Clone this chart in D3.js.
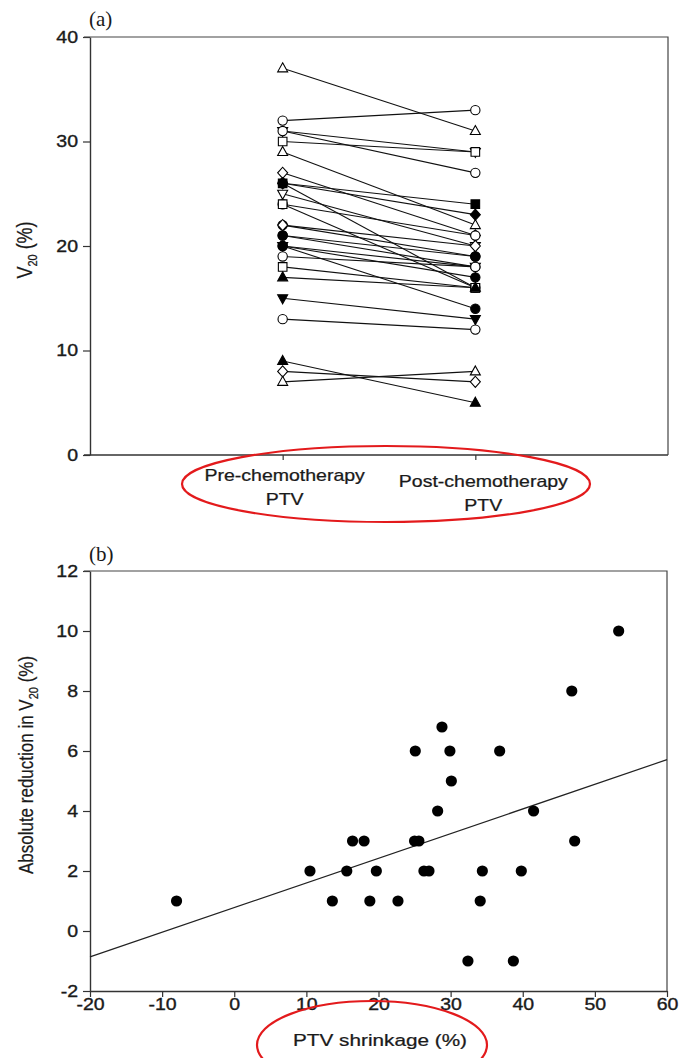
<!DOCTYPE html>
<html>
<head>
<meta charset="utf-8">
<script src="https://cdn.jsdelivr.net/npm/d3@7"></script>
<style>
  html, body { margin: 0; padding: 0; background: #fff; }
  svg { display: block; }
</style>
</head>
<body>
<div id="chart"></div>
<script>
// ---- panel (a): V20 before / after chemotherapy, one line per patient ----
const stages = ["Pre-chemotherapy", "Post-chemotherapy"];
const preV20 = [37, 32, 31, 31, 30, 29, 27, 26, 26, 25, 24, 24, 22, 20, 15, 13, 9, 8, 7, 26, 22, 21, 21, 20, 20, 19, 18, 17];
const postV20 = [31, 33, 29, 27, 29, 22, 21, 24, 16, 20, 21, 16, 19, 14, 13, 12, 5, 7, 8, 23, 20, 19, 18, 17, 18, 18, 16, 16];
const markerShape = ["up", "circle", "down", "circle", "square", "up", "diamond", "square", "circle", "down",
  "circle", "square", "circle", "circle", "down", "circle", "up", "diamond", "up", "diamond",
  "diamond", "circle", "circle", "circle", "down", "circle", "square", "up"];
const markerFilled = [0, 0, 0, 0, 0, 0, 0, 1, 1, 0, 0, 0, 1, 1, 1, 0, 1, 0, 0, 1, 0, 1, 1, 1, 1, 0, 0, 1];
const yTicksA = [0, 10, 20, 30, 40];

// ---- panel (b): PTV shrinkage vs absolute V20 reduction ----
const shrinkage = [53.3, 46.8, 28.8, 25.1, 29.9, 36.8, 30.1, 28.2, 41.5, 16.4, 18.0, 25.0, 25.6, 47.2,
  10.5, 15.6, 19.7, 26.3, 27.0, 34.4, 39.8, -8.0, 13.6, 18.8, 22.7, 34.1, 32.4, 38.7];
const reduction = [10, 8, 6.8, 6, 6, 6, 5, 4, 4, 3, 3, 3, 3, 3,
  2, 2, 2, 2, 2, 2, 2, 1, 1, 1, 1, 1, -1, -1];
const fitIntercept = 0.78;
const fitSlope = 0.0822;
const xTicksB = [-20, -10, 0, 10, 20, 30, 40, 50, 60];
const yTicksB = [-2, 0, 2, 4, 6, 8, 10, 12];

const W = 681, H = 1058;
const SX = 1.22;            // the scanned figure is a bit wider than tall
const FONT = "'Liberation Sans', Arial, sans-serif";
const SERIF = "'Liberation Serif', 'Times New Roman', serif";
const INK = "#1a1a1a";

const svg = d3.select("#chart").append("svg")
  .attr("width", W)
  .attr("height", H)
  .attr("viewBox", [0, 0, W, H]);

function stretched(g, x, y, str, size, anchor, rot) {
  return g.append("text")
    .attr("transform", `translate(${x},${y}) scale(${SX},1)` + (rot ? ` rotate(${rot})` : ""))
    .attr("text-anchor", anchor || "middle")
    .attr("font-family", FONT)
    .attr("font-size", size)
    .attr("fill", INK)
    .attr("stroke", INK)
    .attr("stroke-width", 0.25)
    .text(str);
}

function styleAxis(g, vertical) {
  g.select(".domain").attr("stroke", "#333").attr("stroke-width", 1.4);
  g.selectAll(".tick line").attr("stroke", "#333").attr("stroke-width", 1.2);
  g.selectAll(".tick text")
    .attr("font-family", FONT)
    .attr("font-size", 16)
    .attr("fill", INK)
    .attr("stroke", INK)
    .attr("stroke-width", 0.35);
  if (vertical) {
    g.selectAll(".tick text")
      .attr("x", -12 / SX)
      .attr("transform", `scale(${SX},1)`);
  } else {
    g.selectAll(".tick text")
      .attr("transform", `scale(${SX},1)`)
      .attr("y", 8);
  }
}

function markerPath(shape) {
  switch (shape) {
    case "up": return "M0,-5.5L5,3.5L-5,3.5Z";
    case "down": return "M0,5.5L5,-3.5L-5,-3.5Z";
    case "square": return "M-4.3,-4.3H4.3V4.3H-4.3Z";
    case "diamond": return "M0,-5.6L5,0L0,5.6L-5,0Z";
    default: return d3.symbol(d3.symbolCircle, 68)();
  }
}

const plain = d => String(d);   // hyphen minus like the original, not U+2212

// ===================== panel (a) =====================
const xA = d3.scalePoint().domain(stages).range([90, 668]).padding(1);
const yA = d3.scaleLinear().domain([0, 40]).range([455, 37]);

const gA = svg.append("g");

gA.append("g")
  .attr("transform", "translate(90,0)")
  .call(d3.axisLeft(yA).tickValues(yTicksA).tickSize(7).tickSizeOuter(0).tickFormat(plain))
  .call(g => styleAxis(g, true));

gA.append("g")
  .attr("transform", "translate(0,455)")
  .call(d3.axisBottom(xA).tickSize(5).tickSizeOuter(0).tickFormat(""))
  .call(g => g.select(".domain").attr("d", "M84,0H668"))
  .call(g => styleAxis(g, false));

gA.append("path")
  .attr("d", `M84,${yA(40)}H668V455`)
  .attr("fill", "none")
  .attr("stroke", "#444")
  .attr("stroke-width", 1.2);

const pairs = preV20.map((v, i) => ({ pre: v, post: postV20[i], shape: markerShape[i], filled: markerFilled[i] }));

gA.append("g")
  .selectAll("line")
  .data(pairs)
  .join("line")
  .attr("x1", xA(stages[0]))
  .attr("x2", xA(stages[1]))
  .attr("y1", d => yA(d.pre))
  .attr("y2", d => yA(d.post))
  .attr("stroke", "#111")
  .attr("stroke-width", 1.1);

stages.forEach((s, k) => {
  gA.append("g")
    .selectAll("path")
    .data(pairs)
    .join("path")
    .attr("transform", d => `translate(${xA(s)},${yA(k === 0 ? d.pre : d.post)})`)
    .attr("d", d => markerPath(d.shape))
    .attr("fill", d => d.filled ? "#000" : "#fff")
    .attr("stroke", "#000")
    .attr("stroke-width", 1.1);
});

// category labels under the ticks
const labelShift = [[2, 0], [8, 6]];
stages.forEach((s, k) => {
  const cx = xA(s) + labelShift[k][0];
  stretched(gA, cx, 481 + labelShift[k][1], s, 16);
  stretched(gA, cx, 505 + labelShift[k][1], "PTV", 16);
});

const titleA = gA.append("text")
  .attr("transform", `translate(32,250) scale(${SX},1) rotate(-90)`)
  .attr("text-anchor", "middle")
  .attr("font-family", FONT)
  .attr("font-size", 18)
  .attr("fill", INK)
  .attr("stroke", INK)
  .attr("stroke-width", 0.2);
titleA.append("tspan").text("V");
titleA.append("tspan").attr("font-size", 11).attr("dy", 4).text("20");
titleA.append("tspan").attr("dy", -4).text(" (%)");

gA.append("text")
  .attr("x", 89).attr("y", 26)
  .attr("font-family", SERIF)
  .attr("font-size", 21)
  .attr("fill", INK)
  .text("(a)");

gA.append("ellipse")
  .attr("cx", 386).attr("cy", 484)
  .attr("rx", 204).attr("ry", 38)
  .attr("fill", "none")
  .attr("stroke", "#e31a1c")
  .attr("stroke-width", 2.2);

// ===================== panel (b) =====================
const xB = d3.scaleLinear().domain([-20, 60]).range([90, 667]);
const yB = d3.scaleLinear().domain([-2, 12]).range([991, 571]);

const gB = svg.append("g");

gB.append("g")
  .attr("transform", "translate(90,0)")
  .call(d3.axisLeft(yB).tickValues(yTicksB).tickSize(7).tickSizeOuter(0).tickFormat(plain))
  .call(g => styleAxis(g, true));

gB.append("g")
  .attr("transform", "translate(0,991)")
  .call(d3.axisBottom(xB).tickValues(xTicksB).tickSize(6).tickSizeOuter(0).tickFormat(plain))
  .call(g => styleAxis(g, false));

gB.append("path")
  .attr("d", `M84,${yB(12)}H667V991`)
  .attr("fill", "none")
  .attr("stroke", "#444")
  .attr("stroke-width", 1.2);

const fit = x => fitIntercept + fitSlope * x;
gB.append("line")
  .attr("x1", xB(-20)).attr("y1", yB(fit(-20)))
  .attr("x2", xB(60)).attr("y2", yB(fit(60)))
  .attr("stroke", "#222")
  .attr("stroke-width", 1.2);

gB.append("g")
  .selectAll("circle")
  .data(shrinkage.map((s, i) => ({ s, r: reduction[i] })))
  .join("circle")
  .attr("cx", d => xB(d.s))
  .attr("cy", d => yB(d.r))
  .attr("r", 5.6)
  .attr("fill", "#000");

stretched(gB, 380, 1046, "PTV shrinkage (%)", 17);

const titleB = gB.append("text")
  .attr("transform", `translate(33,765) scale(${SX},1) rotate(-90)`)
  .attr("text-anchor", "middle")
  .attr("font-family", FONT)
  .attr("font-size", 17)
  .attr("fill", INK)
  .attr("stroke", INK)
  .attr("stroke-width", 0.2);
titleB.append("tspan").text("Absolute reduction in V");
titleB.append("tspan").attr("font-size", 11).attr("dy", 4).text("20");
titleB.append("tspan").attr("dy", -4).text(" (%)");

gB.append("text")
  .attr("x", 89).attr("y", 561)
  .attr("font-family", SERIF)
  .attr("font-size", 21)
  .attr("fill", INK)
  .text("(b)");

gB.append("ellipse")
  .attr("cx", 372).attr("cy", 1045)
  .attr("rx", 115).attr("ry", 44)
  .attr("fill", "none")
  .attr("stroke", "#e31a1c")
  .attr("stroke-width", 2.2);
</script>
</body>
</html>
